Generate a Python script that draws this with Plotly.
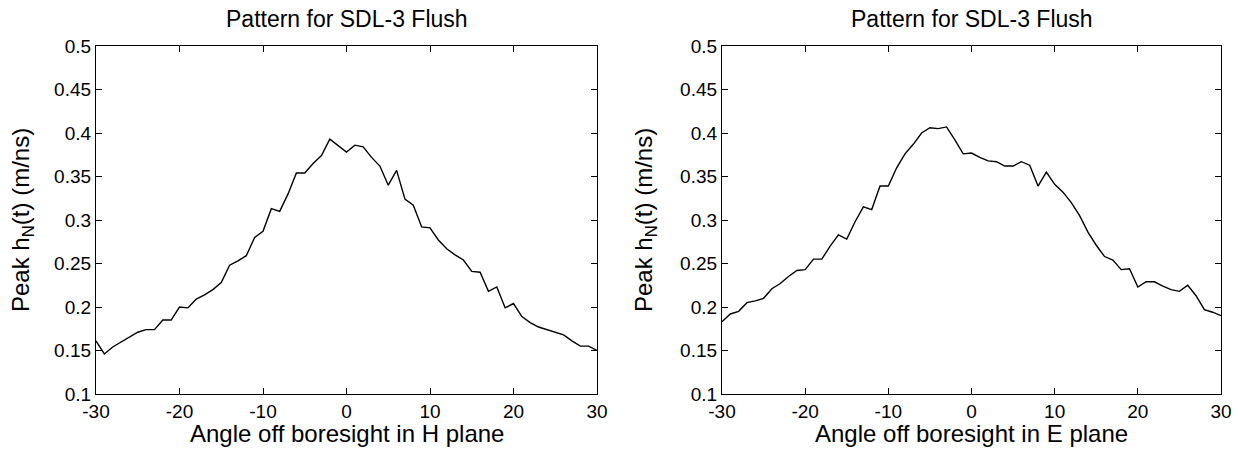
import plotly.graph_objects as go

angles = list(range(-30, 31))

h_plane = [0.161, 0.146, 0.154, 0.160, 0.166, 0.171, 0.174, 0.174, 0.185, 0.185,
           0.200, 0.199, 0.209, 0.214, 0.220, 0.228, 0.248, 0.253, 0.259, 0.280,
           0.287, 0.313, 0.310, 0.330, 0.354, 0.354, 0.365, 0.374, 0.393, 0.386,
           0.378, 0.386, 0.384, 0.372, 0.362, 0.340, 0.357, 0.324, 0.317, 0.292,
           0.291, 0.277, 0.267, 0.260, 0.254, 0.241, 0.240, 0.218, 0.223, 0.199,
           0.204, 0.189, 0.182, 0.177, 0.174, 0.171, 0.168, 0.161, 0.155, 0.155,
           0.150]

e_plane = [0.183, 0.192, 0.195, 0.205, 0.207, 0.210, 0.221, 0.227, 0.235, 0.242,
           0.243, 0.255, 0.255, 0.270, 0.283, 0.278, 0.298, 0.315, 0.312, 0.339,
           0.339, 0.360, 0.376, 0.387, 0.400, 0.406, 0.405, 0.407, 0.392, 0.376,
           0.377, 0.372, 0.368, 0.367, 0.362, 0.362, 0.367, 0.363, 0.339, 0.355,
           0.341, 0.332, 0.320, 0.305, 0.286, 0.271, 0.258, 0.254, 0.243, 0.244,
           0.223, 0.229, 0.229, 0.224, 0.220, 0.218, 0.225, 0.213, 0.197, 0.194,
           0.190]

titles = ["Pattern for SDL-3 Flush", "Pattern for SDL-3 Flush"]
x_labels = ["Angle off boresight in H plane", "Angle off boresight in E plane"]
y_label = "Peak h<sub>N</sub>(t) (m/ns)"
x_ticks = [-30, -20, -10, 0, 10, 20, 30]
x_tick_text = ["-30", "-20", "-10", "0", "10", "20", "30"]
y_ticks = [0.1, 0.15, 0.2, 0.25, 0.3, 0.35, 0.4, 0.45, 0.5]
y_tick_text = ["0.1", "0.15", "0.2", "0.25", "0.3", "0.35", "0.4", "0.45", "0.5"]

W, H = 1241, 449
FONT = "Liberation Sans, Arial, sans-serif"
TICK = 19
LAB = 24
TIT = 23

fig = go.Figure()
fig.add_trace(go.Scatter(x=angles, y=h_plane, mode="lines",
                         line=dict(color="black", width=1.4), xaxis="x", yaxis="y",
                         showlegend=False))
fig.add_trace(go.Scatter(x=angles, y=e_plane, mode="lines",
                         line=dict(color="black", width=1.4), xaxis="x2", yaxis="y2",
                         showlegend=False))

ydom = [1 - 394 / H, 1 - 46 / H]
xdoms = [[96 / W, 597 / W], [722 / W, 1221 / W]]

def xaxis(dom, anchor):
    return dict(domain=dom, anchor=anchor, range=[-30, 30], tickvals=x_ticks,
                ticktext=x_tick_text, automargin=False,
                ticks="inside", ticklen=6, tickcolor="black", mirror="ticks",
                showline=True, linecolor="black", linewidth=1.3, showgrid=False,
                zeroline=False, tickfont=dict(size=TICK, color="black", family=FONT))

def yaxis(anchor):
    return dict(domain=ydom, anchor=anchor, range=[0.1, 0.5], tickvals=y_ticks,
                ticktext=y_tick_text, automargin=False,
                ticks="inside", ticklen=6, tickcolor="black", mirror="ticks",
                showline=True, linecolor="black", linewidth=1.3, showgrid=False,
                zeroline=False, tickfont=dict(size=TICK, color="black", family=FONT))

fig.update_layout(
    width=W, height=H, margin=dict(l=0, r=0, t=0, b=0, autoexpand=False),
    paper_bgcolor="white", plot_bgcolor="white",
    font=dict(family=FONT, color="black"),
    xaxis=xaxis(xdoms[0], "y"),
    yaxis=yaxis("x"),
    xaxis2=xaxis(xdoms[1], "y2"),
    yaxis2=yaxis("x2"),
)

ylab_x = [23 / W, 646 / W]
for dom, t, xl, yx in zip(xdoms, titles, x_labels, ylab_x):
    cx = (dom[0] + dom[1]) / 2
    fig.add_annotation(x=cx, y=1 - 19 / H, xref="paper", yref="paper",
                       text=t, showarrow=False, xanchor="center", yanchor="middle",
                       font=dict(size=TIT, color="black", family=FONT))
    fig.add_annotation(x=cx, y=1 - 433 / H, xref="paper", yref="paper",
                       text=xl, showarrow=False, xanchor="center", yanchor="middle",
                       font=dict(size=LAB, color="black", family=FONT))
    fig.add_annotation(x=yx, y=(ydom[0] + ydom[1]) / 2, xref="paper", yref="paper",
                       text=y_label, showarrow=False, textangle=-90,
                       xanchor="center", yanchor="middle",
                       font=dict(size=LAB, color="black", family=FONT))

fig.write_html("out.html", config={"displayModeBar": False},
               post_script="document.body.style.margin='0';document.body.style.overflow='hidden';")
